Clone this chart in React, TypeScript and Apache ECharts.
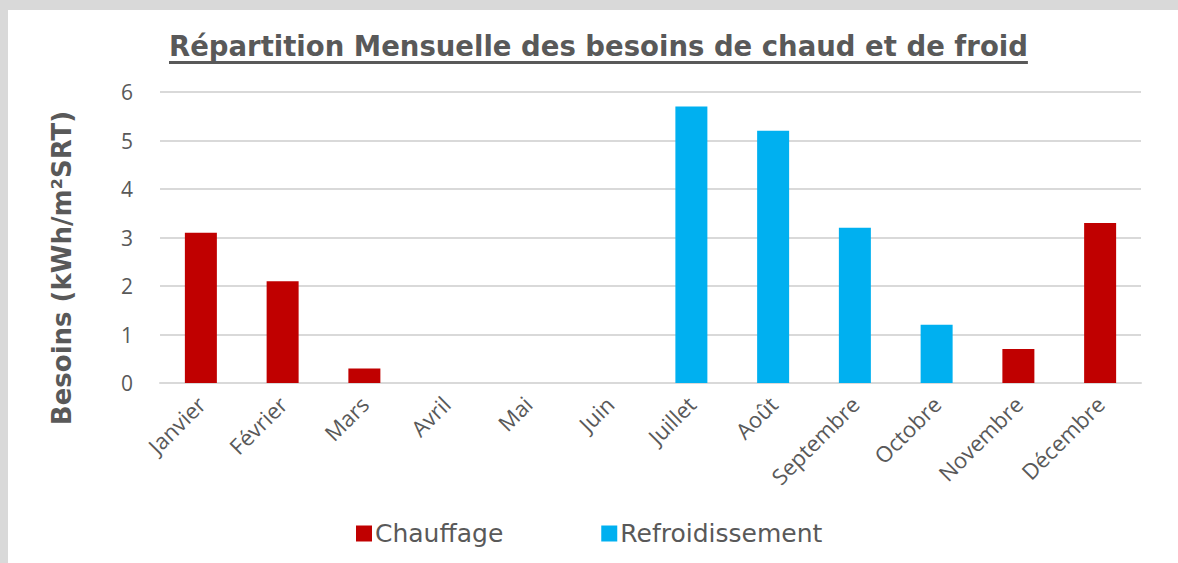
import React, { useEffect, useRef } from "react";
import * as echarts from "echarts";

const months = ["Janvier", "Février", "Mars", "Avril", "Mai", "Juin", "Juillet", "Août", "Septembre", "Octobre", "Novembre", "Décembre"];
const chauffage = [3.1, 2.1, 0.3, 0, 0, 0, null, null, null, null, 0.7, 3.3];
const refroidissement = [null, null, null, null, null, 0, 5.7, 5.2, 3.2, 1.2, null, null];
const yTicks = [0, 1, 2, 3, 4, 5, 6];
const titleText = "Répartition Mensuelle des besoins de chaud et de froid";
const yName = "Besoins (kWh/m²SRT)";

const GRAY = "#595959";
const TITLE_SIZE = 27.5;
const TITLE_FONT = `bold ${TITLE_SIZE}px "DejaVu Sans"`;

function measure(text: string, font: string): number {
  const c = document.createElement("canvas");
  const ctx = c.getContext("2d");
  if (!ctx) return 0;
  ctx.font = font;
  return ctx.measureText(text).width;
}

export default function App() {
  const ref = useRef<HTMLDivElement>(null);
  useEffect(() => {
    if (!ref.current) return;
    const chart = echarts.init(ref.current, undefined, { renderer: "svg" });
    const titleW = measure(titleText, TITLE_FONT) || 857;
    const titleCx = 598;
    const titleLeft = Math.round(titleCx - titleW / 2);
    chart.setOption({
      animation: false,
      backgroundColor: "#ffffff",
      graphic: [
        { type: "rect", shape: { x: 0, y: 0, width: 1178, height: 10 }, style: { fill: "#d9d9d9" }, silent: true },
        { type: "rect", shape: { x: 0, y: 0, width: 8, height: 563 }, style: { fill: "#d9d9d9" }, silent: true },
        {
          type: "text",
          x: titleLeft,
          y: 46,
          style: { text: titleText, fill: GRAY, font: TITLE_FONT, align: "left", verticalAlign: "middle" },
        },
        { type: "rect", shape: { x: titleLeft, y: 61, width: titleW, height: 3 }, style: { fill: GRAY }, silent: true },
        {
          type: "text",
          x: 62,
          y: 268,
          rotation: Math.PI / 2,
          style: {
            text: yName,
            fill: GRAY,
            font: 'bold 26px "DejaVu Sans"',
            align: "center",
            verticalAlign: "middle",
          },
        },
      ],
      legend: {
        left: 351,
        top: 516,
        itemWidth: 16,
        itemHeight: 16,
        itemGap: 98,
        icon: "rect",
        textStyle: { fontFamily: "DejaVu Sans", fontSize: 25, color: GRAY, padding: [0, 0, 0, -2] },
        data: ["Chauffage", "Refroidissement"],
      },
      grid: { left: 160, right: 37, top: 92, bottom: 180, containLabel: false },
      xAxis: {
        type: "category",
        data: months,
        axisLine: { lineStyle: { color: "#d9d9d9", width: 2 } },
        axisTick: { show: false },
        axisLabel: { rotate: 45, fontFamily: "Open Sans", fontSize: 22, color: GRAY, margin: 17, interval: 0 },
      },
      yAxis: {
        type: "value",
        min: yTicks[0],
        max: yTicks[yTicks.length - 1],
        interval: 1,
        axisLine: { show: false },
        axisTick: { show: false },
        axisLabel: { fontFamily: "Open Sans", fontSize: 21, color: GRAY, margin: 27 },
        splitLine: { lineStyle: { color: "#d9d9d9", width: 2 } },
      },
      series: [
        { name: "Chauffage", type: "bar", stack: "s", data: chauffage, barWidth: 32, itemStyle: { color: "#C00000" } },
        { name: "Refroidissement", type: "bar", stack: "s", data: refroidissement, barWidth: 32, itemStyle: { color: "#00B0F0" } },
      ],
    });
    return () => chart.dispose();
  }, []);
  return (
    <div style={{ position: "absolute", left: 0, top: 0, width: 1178, height: 563 }}>
      <div ref={ref} style={{ width: 1178, height: 563 }} />
    </div>
  );
}
